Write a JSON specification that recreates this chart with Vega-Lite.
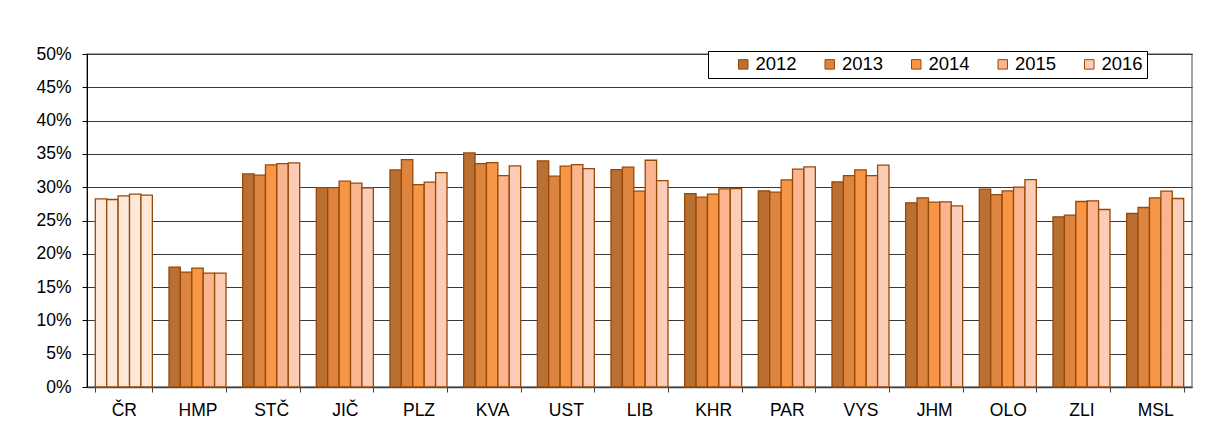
{
  "$schema": "https://vega.github.io/schema/vega-lite/v6.json",
  "width": 1105,
  "height": 333,
  "autosize": {"type": "none"},
  "padding": {"left": 87, "top": 54, "right": 14, "bottom": 55},
  "background": "white",
  "config": {
    "font": "Liberation Sans",
    "view": {"stroke": "#888888", "strokeWidth": 1.5}
  },
  "data": {
    "values": [
      {"region": "ČR", "year": "2012", "value": 0.2825},
      {"region": "ČR", "year": "2013", "value": 0.2815},
      {"region": "ČR", "year": "2014", "value": 0.287},
      {"region": "ČR", "year": "2015", "value": 0.2895},
      {"region": "ČR", "year": "2016", "value": 0.288},
      {"region": "HMP", "year": "2012", "value": 0.180},
      {"region": "HMP", "year": "2013", "value": 0.1725},
      {"region": "HMP", "year": "2014", "value": 0.1785},
      {"region": "HMP", "year": "2015", "value": 0.171},
      {"region": "HMP", "year": "2016", "value": 0.171},
      {"region": "STČ", "year": "2012", "value": 0.320},
      {"region": "STČ", "year": "2013", "value": 0.318},
      {"region": "STČ", "year": "2014", "value": 0.3335},
      {"region": "STČ", "year": "2015", "value": 0.3355},
      {"region": "STČ", "year": "2016", "value": 0.3365},
      {"region": "JIČ", "year": "2012", "value": 0.2995},
      {"region": "JIČ", "year": "2013", "value": 0.2995},
      {"region": "JIČ", "year": "2014", "value": 0.309},
      {"region": "JIČ", "year": "2015", "value": 0.306},
      {"region": "JIČ", "year": "2016", "value": 0.299},
      {"region": "PLZ", "year": "2012", "value": 0.326},
      {"region": "PLZ", "year": "2013", "value": 0.3415},
      {"region": "PLZ", "year": "2014", "value": 0.304},
      {"region": "PLZ", "year": "2015", "value": 0.3075},
      {"region": "PLZ", "year": "2016", "value": 0.322},
      {"region": "KVA", "year": "2012", "value": 0.3515},
      {"region": "KVA", "year": "2013", "value": 0.3355},
      {"region": "KVA", "year": "2014", "value": 0.337},
      {"region": "KVA", "year": "2015", "value": 0.3175},
      {"region": "KVA", "year": "2016", "value": 0.332},
      {"region": "UST", "year": "2012", "value": 0.3395},
      {"region": "UST", "year": "2013", "value": 0.3165},
      {"region": "UST", "year": "2014", "value": 0.3315},
      {"region": "UST", "year": "2015", "value": 0.334},
      {"region": "UST", "year": "2016", "value": 0.328},
      {"region": "LIB", "year": "2012", "value": 0.3265},
      {"region": "LIB", "year": "2013", "value": 0.330},
      {"region": "LIB", "year": "2014", "value": 0.294},
      {"region": "LIB", "year": "2015", "value": 0.3405},
      {"region": "LIB", "year": "2016", "value": 0.310},
      {"region": "KHR", "year": "2012", "value": 0.2905},
      {"region": "KHR", "year": "2013", "value": 0.285},
      {"region": "KHR", "year": "2014", "value": 0.2895},
      {"region": "KHR", "year": "2015", "value": 0.2975},
      {"region": "KHR", "year": "2016", "value": 0.298},
      {"region": "PAR", "year": "2012", "value": 0.2945},
      {"region": "PAR", "year": "2013", "value": 0.2925},
      {"region": "PAR", "year": "2014", "value": 0.311},
      {"region": "PAR", "year": "2015", "value": 0.327},
      {"region": "PAR", "year": "2016", "value": 0.3305},
      {"region": "VYS", "year": "2012", "value": 0.308},
      {"region": "VYS", "year": "2013", "value": 0.3175},
      {"region": "VYS", "year": "2014", "value": 0.326},
      {"region": "VYS", "year": "2015", "value": 0.3175},
      {"region": "VYS", "year": "2016", "value": 0.333},
      {"region": "JHM", "year": "2012", "value": 0.2765},
      {"region": "JHM", "year": "2013", "value": 0.284},
      {"region": "JHM", "year": "2014", "value": 0.2775},
      {"region": "JHM", "year": "2015", "value": 0.278},
      {"region": "JHM", "year": "2016", "value": 0.272},
      {"region": "OLO", "year": "2012", "value": 0.297},
      {"region": "OLO", "year": "2013", "value": 0.289},
      {"region": "OLO", "year": "2014", "value": 0.2945},
      {"region": "OLO", "year": "2015", "value": 0.300},
      {"region": "OLO", "year": "2016", "value": 0.3115},
      {"region": "ZLI", "year": "2012", "value": 0.2555},
      {"region": "ZLI", "year": "2013", "value": 0.258},
      {"region": "ZLI", "year": "2014", "value": 0.2785},
      {"region": "ZLI", "year": "2015", "value": 0.2795},
      {"region": "ZLI", "year": "2016", "value": 0.2665},
      {"region": "MSL", "year": "2012", "value": 0.2605},
      {"region": "MSL", "year": "2013", "value": 0.2695},
      {"region": "MSL", "year": "2014", "value": 0.284},
      {"region": "MSL", "year": "2015", "value": 0.294},
      {"region": "MSL", "year": "2016", "value": 0.283}
    ]
  },
  "mark": {"type": "bar", "stroke": "#984807", "strokeWidth": 1.3},
  "encoding": {
    "x": {
      "field": "region",
      "type": "nominal",
      "sort": ["ČR", "HMP", "STČ", "JIČ", "PLZ", "KVA", "UST", "LIB", "KHR", "PAR", "VYS", "JHM", "OLO", "ZLI", "MSL"],
      "scale": {"paddingInner": 0.226, "paddingOuter": 0.113},
      "axis": {
        "title": null,
        "labelAngle": 0,
        "labelFontSize": 17.5,
        "labelColor": "#000000",
        "labelPadding": 9,
        "tickBand": "extent",
        "tickSize": 5,
        "tickColor": "#404040",
        "domainColor": "#404040",
        "domainWidth": 1.5,
        "grid": false
      }
    },
    "xOffset": {
      "field": "year",
      "type": "nominal",
      "scale": {"paddingInner": 0, "paddingOuter": 0}
    },
    "y": {
      "field": "value",
      "type": "quantitative",
      "scale": {"domain": [0, 0.5]},
      "axis": {
        "title": null,
        "format": ".0%",
        "values": [0, 0.05, 0.1, 0.15, 0.2, 0.25, 0.3, 0.35, 0.4, 0.45, 0.5],
        "labelFontSize": 17.5,
        "labelColor": "#000000",
        "labelPadding": 11,
        "tickSize": 5,
        "tickColor": "#000000",
        "domainColor": "#000000",
        "gridColor": "#3a3a3a",
        "gridWidth": 1
      }
    },
    "color": {
      "condition": {"test": "datum.region === 'ČR'", "value": "#FDE9D9"},
      "field": "year",
      "type": "nominal",
      "scale": {
        "domain": ["2012", "2013", "2014", "2015", "2016"],
        "range": ["#BA6F33", "#DD843F", "#F79646", "#FAB58F", "#FBCDB6"]
      },
      "legend": {
        "title": " ",
        "titleOrient": "left",
        "titleFontSize": 4,
        "titlePadding": 22,
        "orient": "none",
        "legendX": 621,
        "legendY": -3,
        "direction": "horizontal",
        "columns": 5,
        "fillColor": "white",
        "strokeColor": "#000000",
        "padding": 4,
        "columnPadding": 23.5,
        "symbolType": "square",
        "symbolSize": 90,
        "symbolStrokeColor": "#984807",
        "symbolStrokeWidth": 1,
        "symbolOpacity": 1,
        "labelFontSize": 18.5,
        "labelColor": "#000000",
        "labelOffset": 3
      }
    }
  }
}
